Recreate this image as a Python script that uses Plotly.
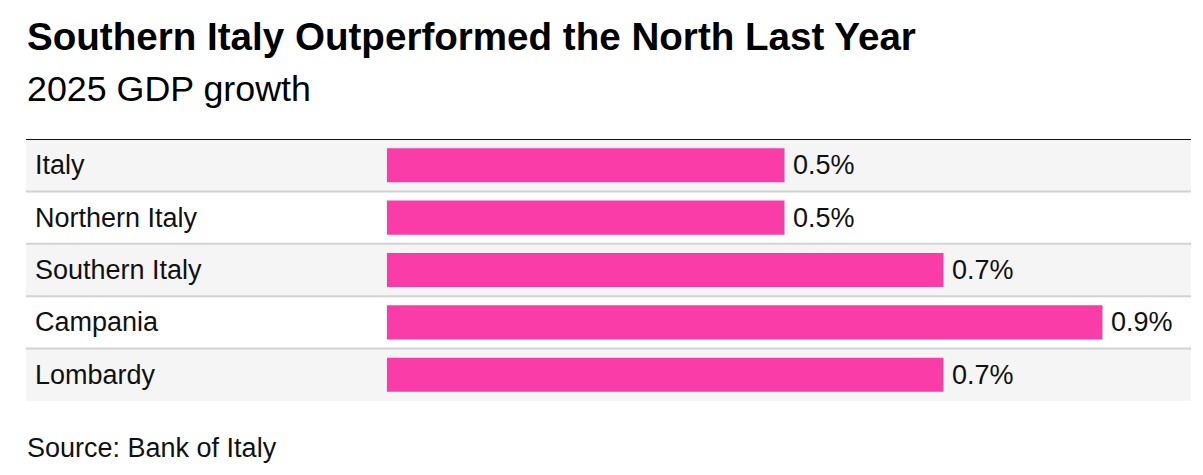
import plotly.graph_objects as go

regions = ["Italy", "Northern Italy", "Southern Italy", "Campania", "Lombardy"]
growth = [0.5, 0.5, 0.7, 0.9, 0.7]

title = "Southern Italy Outperformed the North Last Year"
subtitle = "2025 GDP growth"
source = "Source: Bank of Italy"

# the page body adds an 8px margin, so work in page pixels minus 8
OFF = 8
W, H = 1203 - 2 * OFF, 475 - 2 * OFF
top, bottom = 139 - OFF, 401 - OFF
font = "Liberation Sans, Arial, sans-serif"
pink = "#f93ca8"


def px_x(px):
    return (px - OFF) / W


def px_y(px):
    # page pixel row -> paper y
    return (bottom - (px - OFF)) / (bottom - top)


ypos = list(range(len(regions)))

fig = go.Figure(go.Bar(
    x=growth, y=ypos, orientation="h",
    marker=dict(color=pink, line=dict(width=0)),
    width=0.65, hoverinfo="skip",
))

shapes = []
x0, x1 = px_x(26), px_x(1191)
for i in ypos:
    if i % 2 == 0:
        shapes.append(dict(type="rect", xref="paper", yref="y", x0=x0, x1=x1,
                           y0=i - 0.5, y1=i + 0.5, fillcolor="#f5f5f5",
                           line=dict(width=0), layer="below"))
for i in ypos[1:]:
    shapes.append(dict(type="line", xref="paper", yref="y", x0=x0, x1=x1,
                       y0=i - 0.5, y1=i - 0.5, line=dict(color="#d2d2d2", width=2),
                       layer="below"))
shapes.append(dict(type="line", xref="paper", yref="y", x0=x0, x1=x1,
                   y0=-0.5, y1=-0.5, line=dict(color="#111111", width=2)))

annotations = []
for i, (r, v) in enumerate(zip(regions, growth)):
    annotations.append(dict(x=px_x(33), xref="paper", y=i, yref="y", text=r,
                            xanchor="left", yanchor="middle", showarrow=False,
                            font=dict(size=27, color="#111111")))
    annotations.append(dict(x=v, xref="x", y=i, yref="y", text=f"{v}%",
                            xanchor="left", yanchor="middle", showarrow=False,
                            xshift=6, font=dict(size=27, color="#111111")))

annotations += [
    dict(x=px_x(25), xref="paper", y=px_y(37), yref="paper", text=f"<b>{title}</b>",
         xanchor="left", yanchor="middle", showarrow=False,
         font=dict(size=38.6, color="#000000")),
    dict(x=px_x(25), xref="paper", y=px_y(89), yref="paper", text=subtitle,
         xanchor="left", yanchor="middle", showarrow=False,
         font=dict(size=35.8, color="#000000")),
    dict(x=px_x(25), xref="paper", y=px_y(448), yref="paper", text=source,
         xanchor="left", yanchor="middle", showarrow=False,
         font=dict(size=27, color="#111111")),
]

fig.update_layout(
    width=W, height=H,
    margin=dict(l=0, r=0, t=top, b=H - bottom, pad=0),
    paper_bgcolor="white", plot_bgcolor="rgba(0,0,0,0)",
    font=dict(family=font),
    showlegend=False,
    xaxis=dict(domain=[px_x(387), px_x(1182)], range=[0, 1.0], visible=False, fixedrange=True),
    yaxis=dict(range=[len(regions) - 0.5, -0.5], visible=False, fixedrange=True),
    shapes=shapes, annotations=annotations,
)

fig.write_html("out.html", config={"displayModeBar": False})
